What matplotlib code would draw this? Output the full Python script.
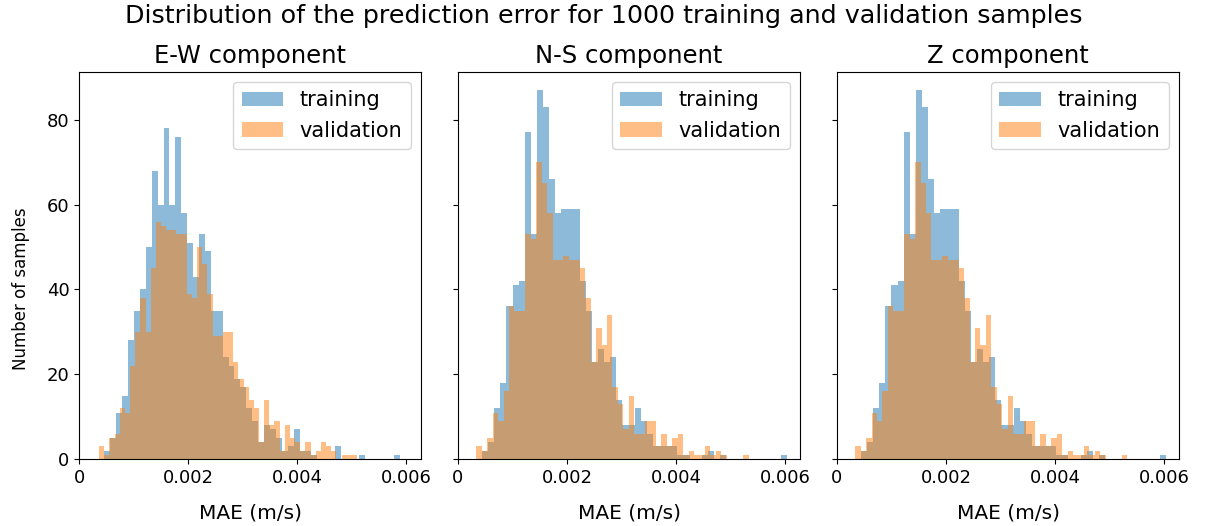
import numpy as np
import matplotlib
matplotlib.use("Agg")
import matplotlib.pyplot as plt

# per-bin counts (50 bins each) and the min / max of each error series
ew_train = [2, 5, 11, 15, 28, 35, 40, 50, 68, 60, 78, 60, 76, 58, 51,
            43, 53, 49, 35, 35, 24, 22, 19, 17, 12, 9, 4, 8, 7, 5,
            2, 3, 7, 2, 2, 1, 0, 0, 0, 3, 0, 0, 0, 1, 0, 0, 0, 0, 0, 1]
ew_val = [3, 1, 5, 6, 12, 11, 22, 30, 38, 30, 45, 56, 55, 54, 54,
          53, 53, 39, 38, 50, 46, 39, 29, 29, 30, 30, 23, 19, 17, 14,
          12, 4, 14, 8, 9, 2, 8, 5, 4, 2, 4, 1, 2, 4, 3, 2, 0, 1, 1, 1]
ew_train_lim = (0.000464, 0.00589)
ew_val_lim = (0.000367, 0.00510)

ns_train = [2, 4, 12, 18, 36, 41, 42, 77, 53, 87, 83, 66, 58, 59, 59,
            59, 42, 35, 23, 26, 23, 24, 14, 8, 8, 12, 9, 6, 3, 3,
            3, 3, 1, 1, 0, 0, 1, 2, 0, 1, 0, 0, 0, 0, 0, 0, 0, 0, 0, 1]
ns_val = [3, 2, 5, 11, 9, 16, 36, 35, 35, 53, 52, 70, 65, 58, 47,
          47, 48, 47, 47, 45, 38, 23, 31, 27, 34, 17, 13, 7, 15, 6,
          6, 9, 9, 3, 6, 3, 5, 6, 1, 2, 1, 1, 3, 1, 2, 1, 0, 0, 0, 1]
ns_train_lim = (0.000440, 0.00604)
ns_val_lim = (0.000336, 0.00533)

z_train = [2, 4, 12, 18, 36, 41, 42, 77, 53, 87, 83, 66, 58, 59, 59,
           59, 42, 35, 23, 26, 23, 24, 14, 8, 8, 12, 9, 6, 3, 3,
           3, 3, 1, 1, 0, 0, 1, 2, 0, 1, 0, 0, 0, 0, 0, 0, 0, 0, 0, 1]
z_val = [3, 2, 5, 11, 9, 16, 36, 35, 35, 53, 52, 70, 65, 58, 47,
         47, 48, 47, 47, 45, 38, 23, 31, 27, 34, 17, 13, 7, 15, 6,
         6, 9, 9, 3, 6, 3, 5, 6, 1, 2, 1, 1, 3, 1, 2, 1, 0, 0, 0, 1]
z_train_lim = (0.000440, 0.00604)
z_val_lim = (0.000336, 0.00533)

components = ["E-W component", "N-S component", "Z component"]
panels = [(ew_train, ew_train_lim, ew_val, ew_val_lim),
          (ns_train, ns_train_lim, ns_val, ns_val_lim),
          (z_train, z_train_lim, z_val, z_val_lim)]


def draw_hist(ax, counts, lim, label):
    edges = np.linspace(lim[0], lim[1], len(counts) + 1)
    ax.hist(edges[:-1], bins=edges, weights=counts, alpha=0.5, label=label)


fig, axs = plt.subplots(1, 3, sharex=True, sharey=True, figsize=(12.07, 5.26), dpi=100)
fig.subplots_adjust(left=0.0655, right=0.977, bottom=0.127, top=0.864, wspace=0.107)

for ax, name, (tr, tr_lim, va, va_lim) in zip(axs, components, panels):
    draw_hist(ax, tr, tr_lim, "training")
    draw_hist(ax, va, va_lim, "validation")
    ax.set_title(name, fontsize=17.5)
    ax.set_xlabel("MAE (m/s)", fontsize=14.5, labelpad=12)
    ax.tick_params(labelsize=13)
    ax.legend(fontsize=15)

axs[0].set_xlim(0, 0.00628)
axs[0].set_xticks([0, 0.002, 0.004, 0.006])
axs[0].set_xticklabels(["0", "0.002", "0.004", "0.006"])
axs[0].set_ylabel("Number of samples", fontsize=12)
axs[0].yaxis.set_label_coords(-0.143, 0.44)
fig.suptitle("Distribution of the prediction error for 1000 training and validation samples",
             fontsize=18.3, y=0.993)

fig.savefig("out.png", dpi=100)
